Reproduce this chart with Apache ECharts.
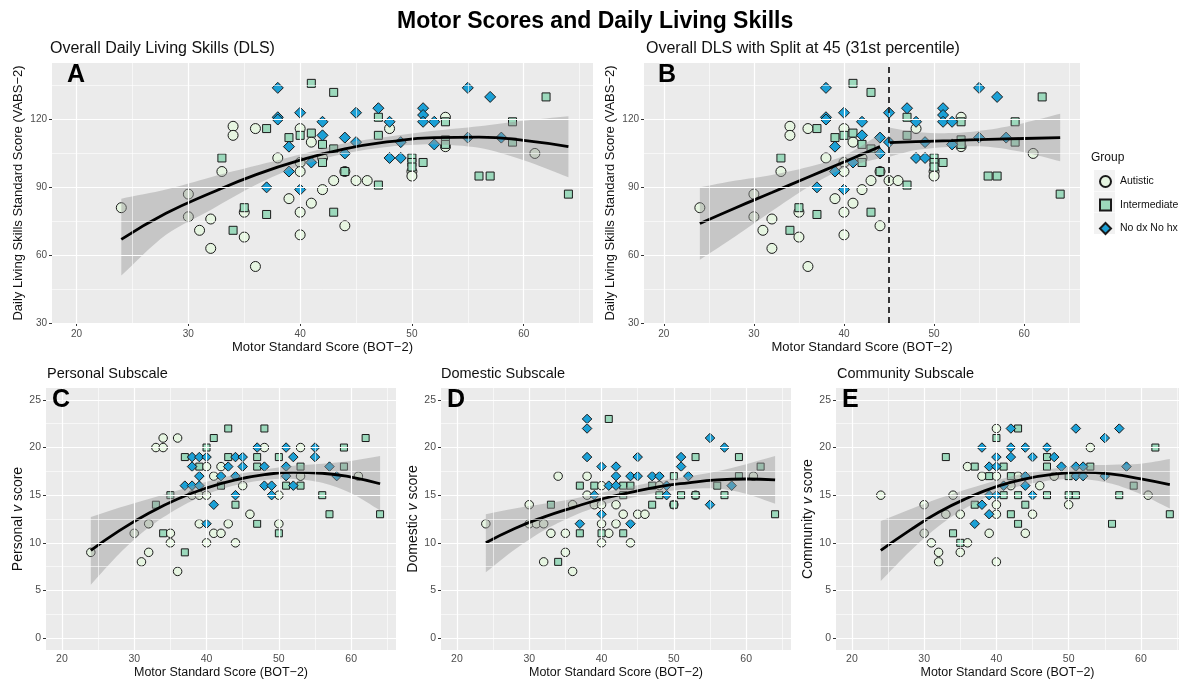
<!DOCTYPE html>
<html>
<head>
<meta charset="utf-8">
<script src="https://cdn.jsdelivr.net/npm/echarts@6/dist/echarts.min.js"></script>
<style>
  html, body { margin: 0; padding: 0; background: #fff; }
  #chart { width: 1179px; height: 681px; }
</style>
</head>
<body>
<div id="chart"></div>
<script>
// ---- tick breaks ----
const xMajor = [20, 30, 40, 50, 60];
const xMinor = [25, 35, 45, 55, 65];
const dlsMajor = [30, 60, 90, 120];
const dlsMinor = [45, 75, 105, 135];
const subMajor = [0, 5, 10, 15, 20, 25];
const subMinor = [2.5, 7.5, 12.5, 17.5, 22.5];

// ---- overall DLS (panels A and B) ----
const dlsAutistic = [[24,81],[30,87],[30,77],[31,71],[32,76],[32,63],[33,97],[34,117],[34,113],[35,79],[35,68],[36,116],[36,55],[38,103],[39,85],[40,116],[40,101],[40,97],[40,79],[40,69],[41,110],[41,83],[42,103],[42,89],[43,93],[44,97],[44,73],[45,93],[46,93],[48,116],[50,97],[50,95],[53,121],[53,108],[61,105]];
const dlsIntermediate = [[33,103],[34,71],[35,81],[37,116],[37,78],[39,112],[40,113],[41,136],[41,114],[42,109],[42,101],[43,132],[43,107],[43,79],[44,97],[47,121],[47,113],[47,91],[50,103],[50,101],[50,99],[51,101],[53,119],[53,111],[53,109],[56,95],[57,95],[59,119],[59,110],[62,130],[64,87]];
const dlsNoDx = [[37,90],[38,134],[38,121],[38,120],[39,108],[39,97],[40,123],[40,89],[41,101],[42,119],[42,113],[44,112],[44,105],[45,123],[45,110],[47,125],[48,119],[48,103],[49,110],[49,103],[51,125],[51,122],[51,119],[52,119],[52,109],[55,134],[55,112],[57,130],[58,112]];

// ---- subscales (panels C, D, E) ----
const personalAutistic = [[24,9],[30,11],[31,8],[32,12],[32,9],[33,20],[34,21],[34,20],[35,11],[35,10],[36,21],[36,7],[38,15],[39,15],[39,12],[40,18],[40,15],[40,10],[41,17],[41,11],[42,18],[42,11],[43,12],[44,10],[45,16],[46,13],[48,20],[50,15],[50,12],[53,20],[53,17],[61,17]];
const personalIntermediate = [[33,14],[34,11],[35,15],[37,19],[37,9],[39,18],[40,20],[41,21],[42,16],[43,22],[43,19],[44,14],[47,19],[47,18],[47,12],[48,22],[50,19],[50,11],[51,16],[53,18],[53,16],[56,15],[57,13],[59,20],[59,18],[62,21],[64,13]];
const personalNoDx = [[37,16],[38,19],[38,18],[38,16],[39,19],[39,17],[39,16],[40,19],[40,12],[41,14],[42,17],[43,18],[44,19],[44,17],[44,15],[45,19],[45,18],[47,20],[48,18],[48,16],[49,16],[49,15],[51,20],[51,18],[51,17],[52,19],[52,16],[55,20],[55,19],[57,18],[58,17]];

const domesticAutistic = [[24,12],[30,14],[30,12],[31,12],[32,12],[32,8],[33,11],[34,17],[35,11],[35,9],[36,14],[36,7],[38,17],[38,15],[39,14],[40,16],[40,14],[40,12],[40,10],[41,11],[42,14],[42,12],[43,13],[44,10],[45,13],[46,13],[48,16],[50,14],[53,15],[61,17]];
const domesticIntermediate = [[33,14],[34,8],[37,16],[37,11],[39,16],[40,11],[41,23],[43,16],[43,15],[43,11],[44,16],[47,16],[47,14],[48,15],[50,17],[50,14],[51,15],[53,19],[53,15],[56,16],[57,15],[59,19],[59,17],[62,18],[64,13]];
const domesticNoDx = [[37,12],[38,23],[38,22],[38,19],[39,15],[40,18],[40,13],[41,16],[42,18],[42,17],[42,16],[44,17],[44,12],[45,19],[45,17],[47,17],[48,17],[49,16],[49,15],[51,19],[51,18],[52,17],[55,21],[55,14],[57,20],[58,16]];

const communityAutistic = [[24,15],[30,14],[30,11],[31,10],[32,9],[32,8],[33,13],[34,15],[35,13],[35,9],[36,18],[36,10],[38,17],[39,11],[40,22],[40,17],[40,14],[40,13],[40,8],[42,16],[43,17],[44,11],[45,13],[46,16],[48,17],[50,14],[53,20],[61,15]];
const communityIntermediate = [[33,19],[34,11],[35,10],[37,18],[37,14],[39,17],[40,21],[41,18],[41,15],[42,17],[42,13],[43,22],[43,15],[43,12],[44,14],[47,19],[47,18],[47,15],[50,17],[50,15],[51,15],[53,18],[56,12],[57,15],[59,16],[62,20],[64,13]];
const communityNoDx = [[37,12],[38,20],[38,14],[39,18],[39,15],[39,13],[40,19],[40,18],[40,15],[41,16],[42,22],[42,20],[42,19],[44,20],[44,17],[44,16],[45,19],[45,15],[47,20],[48,19],[49,18],[51,22],[51,18],[51,17],[52,18],[52,17],[55,21],[55,17],[57,22],[58,18]];

// ---- fitted curves and confidence bands ----
const fitX = [24, 28, 32, 36, 40, 44, 48, 52, 56, 60, 64];
const dlsFit = [67, 78.5, 87.5, 95.5, 102, 107, 110.2, 112, 112.2, 110.8, 108];
const dlsLo  = [51, 69, 80, 91, 99.5, 105, 108, 109, 107.5, 102, 94.5];
const dlsHi  = [85, 89, 94.5, 99.5, 104.5, 109.5, 112.5, 115, 117, 119.5, 121.5];

const splitAt = 45;
const leftX = [24, 28, 32, 36, 40, 44];
const leftFit = [74, 81, 87.7, 94.5, 101.2, 108];
const leftLo  = [58, 68.5, 79.5, 90, 98.5, 103];
const leftHi  = [90, 93, 95.5, 99, 104, 113.5];
const rightX = [45, 48, 52, 56, 60, 64];
const rightFit = [109.8, 110.2, 110.7, 111.2, 111.6, 112];
const rightLo  = [103.5, 106.5, 108, 108, 105.5, 101.5];
const rightHi  = [116.5, 114.5, 114, 115.5, 118.5, 122.5];

const personalFit = [9.2, 11.3, 13.1, 14.6, 15.75, 16.6, 17.15, 17.4, 17.3, 16.9, 16.2];
const personalLo  = [5.6, 8.9, 11.6, 13.6, 15.1, 16.05, 16.6, 16.7, 16.3, 15.2, 13.4];
const personalHi  = [12.7, 13.7, 14.6, 15.5, 16.4, 17.15, 17.7, 18.1, 18.3, 18.6, 19.1];

const domesticFit = [10, 11.5, 12.7, 13.7, 14.6, 15.3, 15.9, 16.3, 16.6, 16.7, 16.6];
const domesticLo  = [6.9, 9.3, 11.3, 12.8, 13.95, 14.7, 15.3, 15.65, 15.7, 15.15, 14.1];
const domesticHi  = [13.0, 13.6, 14.1, 14.6, 15.25, 15.9, 16.5, 16.95, 17.5, 18.25, 19.1];

const communityFit = [9.2, 11.3, 13.2, 14.7, 15.9, 16.7, 17.2, 17.4, 17.2, 16.7, 16.1];
const communityLo  = [6.0, 9.1, 11.75, 13.75, 15.25, 16.1, 16.6, 16.7, 16.2, 15.1, 13.6];
const communityHi  = [12.3, 13.5, 14.65, 15.65, 16.55, 17.3, 17.8, 18.1, 18.2, 18.3, 18.8];

// ---- styling ----
const FONT = 'Liberation Sans, Arial, sans-serif';
const colAut = '#E6F5E1';
const colInt = '#9CD9BC';
const colNo = '#1BA0D6';
const bandFill = 'rgba(153,153,153,0.45)';

const grids = [
  { left: 52,  top: 63,  width: 541, height: 260 },
  { left: 644, top: 63,  width: 436, height: 260 },
  { left: 46,  top: 388, width: 350, height: 262 },
  { left: 441, top: 388, width: 350, height: 262 },
  { left: 836, top: 388, width: 343, height: 262 }
].map(g => Object.assign(g, { show: true, backgroundColor: '#EBEBEB', borderWidth: 0 }));

const xMax = [66.2, 66.2, 66.2, 66.2, 65.27];

function xAxisFor(i) {
  const top = i < 2;
  return {
    gridIndex: i, type: 'value', min: 17.8, max: xMax[i],
    axisLine: { show: false }, splitLine: { show: false },
    axisTick: { show: true, length: 3, lineStyle: { color: '#333' }, customValues: xMajor },
    axisLabel: { customValues: xMajor, fontSize: top ? 10 : 10.5, color: '#4D4D4D', margin: top ? 6 : 4 },
    name: 'Motor Standard Score (BOT\u22122)', nameLocation: 'middle', nameGap: top ? 18 : 12,
    nameTextStyle: { fontSize: top ? 13 : 12.5, color: '#111' }
  };
}

function yAxisFor(i, name) {
  const top = i < 2;
  const ticks = top ? dlsMajor : subMajor;
  return {
    gridIndex: i, type: 'value',
    min: top ? 30 : -1.25, max: top ? 145 : 26.25,
    axisLine: { show: false }, splitLine: { show: false },
    axisTick: { show: true, length: 3, lineStyle: { color: '#333' }, customValues: ticks },
    axisLabel: { customValues: ticks, fontSize: top ? 10 : 10.5, color: '#4D4D4D', margin: 5 },
    name: name, nameLocation: 'middle', nameRotate: 90, nameGap: top ? 27 : 16.5,
    nameTextStyle: {
      fontSize: top ? 13 : 14, color: '#111',
      rich: { i: { fontSize: 14, fontStyle: 'italic', color: '#111' } }
    }
  };
}

function gridSeries(i) {
  const top = i < 2;
  const yMaj = top ? dlsMajor : subMajor;
  const yMin = top ? dlsMinor : subMinor;
  const major = { color: '#fff', width: 1.2, type: 'solid' };
  const minor = { color: '#fff', width: 0.6, type: 'solid' };
  return {
    type: 'line', xAxisIndex: i, yAxisIndex: i, z: 1, silent: true,
    data: [[xMajor[0], yMaj[0]]], showSymbol: false,
    markLine: {
      silent: true, symbol: 'none', animation: false, label: { show: false },
      emphasis: { disabled: true },
      data: [].concat(
        xMinor.map(v => ({ xAxis: v, lineStyle: minor })),
        yMin.map(v => ({ yAxis: v, lineStyle: minor })),
        xMajor.map(v => ({ xAxis: v, lineStyle: major })),
        yMaj.map(v => ({ yAxis: v, lineStyle: major }))
      )
    }
  };
}

function pointSeries(i, name, data, symbol) {
  const top = i < 2;
  const sizes = top ? { circle: 10, rect: 8, diamond: 11 } : { circle: 8.5, rect: 7, diamond: 9.5 };
  const color = name === 'Autistic' ? colAut : name === 'Intermediate' ? colInt : colNo;
  return {
    type: 'scatter', name: name, xAxisIndex: i, yAxisIndex: i, z: 2,
    data: data, symbol: symbol, symbolSize: sizes[symbol],
    itemStyle: { color: color, borderColor: '#1a1a1a', borderWidth: 1, opacity: 1 },
    emphasis: { disabled: true }
  };
}

function bandSeries(i, xs, lo, hi) {
  return {
    type: 'custom', xAxisIndex: i, yAxisIndex: i, z: 3, silent: true,
    data: [[xs[0], lo[0]]],
    renderItem: function (params, api) {
      const pts = [];
      pts.push(api.coord([xs[0], hi[0]]));
      xs.forEach((x, k) => pts.push(api.coord([x, hi[k]])));
      pts.push(api.coord([xs[xs.length - 1], hi[xs.length - 1]]));
      pts.push(api.coord([xs[xs.length - 1], lo[xs.length - 1]]));
      for (let k = xs.length - 1; k >= 0; k--) pts.push(api.coord([xs[k], lo[k]]));
      pts.push(api.coord([xs[0], lo[0]]));
      return { type: 'polygon', shape: { points: pts, smooth: 0.3 }, style: { fill: bandFill } };
    }
  };
}

function fitSeries(i, xs, ys) {
  return {
    type: 'line', xAxisIndex: i, yAxisIndex: i, z: 4, silent: true,
    data: xs.map((x, k) => [x, ys[k]]), smooth: true, showSymbol: false,
    lineStyle: { color: '#000', width: 2.8 }
  };
}

const panels = [
  { aut: dlsAutistic, int: dlsIntermediate, no: dlsNoDx },
  { aut: dlsAutistic, int: dlsIntermediate, no: dlsNoDx },
  { aut: personalAutistic, int: personalIntermediate, no: personalNoDx },
  { aut: domesticAutistic, int: domesticIntermediate, no: domesticNoDx },
  { aut: communityAutistic, int: communityIntermediate, no: communityNoDx }
];

const series = [];
panels.forEach((p, i) => {
  series.push(gridSeries(i));
  series.push(pointSeries(i, 'Autistic', p.aut, 'circle'));
  series.push(pointSeries(i, 'Intermediate', p.int, 'rect'));
  series.push(pointSeries(i, 'No dx No hx', p.no, 'diamond'));
});

series.push(bandSeries(0, fitX, dlsLo, dlsHi), fitSeries(0, fitX, dlsFit));
series.push(bandSeries(1, leftX, leftLo, leftHi), fitSeries(1, leftX, leftFit));
series.push(bandSeries(1, rightX, rightLo, rightHi));
const rightLine = fitSeries(1, rightX, rightFit);
rightLine.markLine = {
  silent: true, symbol: 'none', animation: false, label: { show: false },
  lineStyle: { color: '#222', width: 1.8, type: [6, 4] },
  data: [{ xAxis: splitAt }]
};
series.push(rightLine);
series.push(bandSeries(2, fitX, personalLo, personalHi), fitSeries(2, fitX, personalFit));
series.push(bandSeries(3, fitX, domesticLo, domesticHi), fitSeries(3, fitX, domesticFit));
series.push(bandSeries(4, fitX, communityLo, communityHi), fitSeries(4, fitX, communityFit));

const yNames = [
  'Daily Living Skills Standard Score (VABS\u22122)',
  'Daily Living Skills Standard Score (VABS\u22122)',
  'Personal {i|v} score',
  'Domestic {i|v} score',
  'Community {i|v} score'
];

const letters = [['A', 67, 63], ['B', 658, 63], ['C', 52, 388], ['D', 447, 388], ['E', 842, 388]];

const chart = echarts.init(document.getElementById('chart'));
chart.setOption({
  animation: false,
  backgroundColor: '#fff',
  textStyle: { fontFamily: FONT },
  title: [
    { text: 'Motor Scores and Daily Living Skills', left: 397, top: 10, padding: 0,
      textStyle: { fontSize: 23, fontWeight: 'bold', color: '#000', fontFamily: FONT } },
    { text: 'Overall Daily Living Skills (DLS)', left: 50, top: 41, padding: 0,
      textStyle: { fontSize: 16, fontWeight: 'normal', color: '#111', fontFamily: FONT } },
    { text: 'Overall DLS with Split at 45 (31st percentile)', left: 646, top: 41, padding: 0,
      textStyle: { fontSize: 16, fontWeight: 'normal', color: '#111', fontFamily: FONT } },
    { text: 'Personal Subscale', left: 47, top: 366, padding: 0,
      textStyle: { fontSize: 14.5, fontWeight: 'normal', color: '#111', fontFamily: FONT } },
    { text: 'Domestic Subscale', left: 441, top: 366, padding: 0,
      textStyle: { fontSize: 14.5, fontWeight: 'normal', color: '#111', fontFamily: FONT } },
    { text: 'Community Subscale', left: 837, top: 366, padding: 0,
      textStyle: { fontSize: 14.5, fontWeight: 'normal', color: '#111', fontFamily: FONT } },
    { text: 'Group', left: 1091, top: 152, padding: 0,
      textStyle: { fontSize: 12, fontWeight: 'normal', color: '#111', fontFamily: FONT } }
  ],
  legend: {
    orient: 'vertical', left: 1099, top: 175, padding: 0,
    itemWidth: 11, itemHeight: 11, itemGap: 10.5, selectedMode: false,
    textStyle: { fontSize: 10.5, color: '#111', padding: [0, 0, 0, 4] },
    data: [
      { name: 'Autistic', icon: 'circle' },
      { name: 'Intermediate', icon: 'rect' },
      { name: 'No dx No hx', icon: 'diamond' }
    ]
  },
  graphic: [].concat(
    [0, 1, 2].map(k => ({
      type: 'rect', left: 1094, top: 170 + k * 21.5, z: -1, silent: true,
      shape: { width: 21, height: 21 }, style: { fill: '#F2F2F2' }
    })),
    letters.map(l => ({
      type: 'text', left: l[1], top: l[2], z: 10, silent: true,
      style: { text: l[0], font: 'bold 25px ' + FONT, fill: '#000' }
    }))
  ),
  grid: grids,
  xAxis: grids.map((g, i) => xAxisFor(i)),
  yAxis: grids.map((g, i) => yAxisFor(i, yNames[i])),
  series: series
});
</script>
</body>
</html>
